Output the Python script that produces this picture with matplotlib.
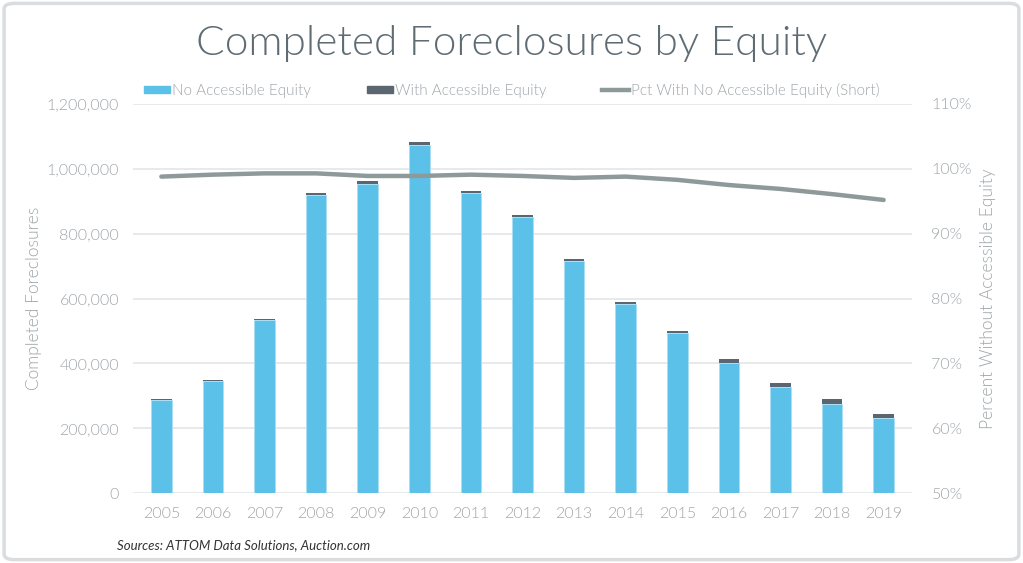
import matplotlib
matplotlib.use("Agg")
import matplotlib.pyplot as plt
from matplotlib import font_manager
from matplotlib.patches import FancyBboxPatch, Patch
from matplotlib.lines import Line2D
from matplotlib.ticker import FuncFormatter

# datos
years = ["2005", "2006", "2007", "2008", "2009", "2010", "2011", "2012",
         "2013", "2014", "2015", "2016", "2017", "2018", "2019"]
total = [290000, 349000, 537000, 926000, 963000, 1083000, 932000, 858000,
         722000, 590000, 500000, 413000, 340000, 290000, 244000]
with_equity = [3000, 3000, 4000, 8000, 9000, 10000, 7000, 6000,
               6000, 6000, 7000, 12000, 12000, 14000, 13000]
no_equity = [t - w for t, w in zip(total, with_equity)]
pct_no_equity = [98.8, 99.1, 99.3, 99.3, 98.9, 98.9, 99.1, 98.9,
                 98.6, 98.8, 98.3, 97.5, 96.9, 96.1, 95.2]

azul = "#5bc1e9"
oscuro = "#5b6670"
gris_linea = "#8e9a9a"
gris_texto = "#9fa5a9"

plt.rcParams['font.family'] = ['Lato', 'DejaVu Sans']

# buscar Lato Light si existe
ligera = None
for f in font_manager.findSystemFonts():
    nombre = f.split("/")[-1].lower()
    if nombre in ("lato-light.ttf", "lato-light.otf"):
        ligera = font_manager.FontProperties(fname=f)
        break
if ligera is None:
    ligera = font_manager.FontProperties(family="Lato")

fig = plt.figure(figsize=(10.23, 5.63), dpi=100)
ax = fig.add_axes([0.130, 0.1243, 0.7615, 0.691])

x = list(range(len(years)))
ax.bar(x, no_equity, width=0.4, color=azul, edgecolor="#a9def3", linewidth=0.6, zorder=2)
ax.bar(x, with_equity, width=0.4, bottom=no_equity, color=oscuro, linewidth=0, zorder=2)

ax.set_ylim(0, 1200000)
ax.set_xlim(-0.55, len(years) - 0.45)
ax.set_yticks(range(0, 1200001, 200000))
ax.yaxis.set_major_formatter(FuncFormatter(lambda v, p: f"{int(v):,}"))
ax.set_xticks(x)
ax.set_xticklabels(years)
ax.grid(axis="y", color="#e5e8eb", linewidth=1.3, zorder=0)
ax.set_axisbelow(True)
for s in ax.spines.values():
    s.set_visible(False)
ax.tick_params(length=0, colors=gris_texto, labelsize=11.5, pad=10)
for t in ax.get_xticklabels() + ax.get_yticklabels():
    t.set_fontproperties(ligera)
    t.set_fontsize(11.5)
ax.set_ylabel("Completed Foreclosures", color=gris_texto, labelpad=3,
              fontproperties=ligera)
ax.yaxis.label.set_fontsize(12.5)

ax2 = ax.twinx()
ax2.plot(x, pct_no_equity, color=gris_linea, linewidth=3.2, solid_capstyle="round",
         solid_joinstyle="round", zorder=3)
ax2.set_ylim(50, 110)
ax2.set_yticks(range(50, 111, 10))
ax2.yaxis.set_major_formatter(FuncFormatter(lambda v, p: f"{int(v)}%"))
for s in ax2.spines.values():
    s.set_visible(False)
ax2.tick_params(length=0, colors=gris_texto, labelsize=11.5, pad=14)
for t in ax2.get_yticklabels():
    t.set_fontproperties(ligera)
    t.set_fontsize(11.5)
ax2.set_ylabel("Percent Without Accessible Equity", color=gris_texto, labelpad=6,
               fontproperties=ligera)
ax2.yaxis.label.set_fontsize(12.5)

titulo = fig.text(0.5, 0.922, "Completed Foreclosures by Equity", ha="center", va="center",
                  color="#5f6c74", fontproperties=ligera)
titulo.set_fontsize(30.5)

handles = [Patch(color=azul), Patch(color=oscuro),
           Line2D([], [], color=gris_linea, linewidth=3.2)]
labels = ["No Accessible Equity", "With Accessible Equity",
          "Pct With No Accessible Equity (Short)"]
leg = fig.legend(handles, labels, loc="center", bbox_to_anchor=(0.5, 0.84), ncol=3,
                 frameon=False, handlelength=1.9, handleheight=0.45,
                 handletextpad=0.15, columnspacing=4.0, prop=ligera)
for t in leg.get_texts():
    t.set_color(gris_texto)
    t.set_fontsize(11)

fig.text(0.114, 0.032, "Sources: ATTOM Data Solutions, Auction.com", fontsize=9.5,
         style="italic", color="#333333", va="center")

marco = FancyBboxPatch((0.004, 0.006), 0.992, 0.988, boxstyle="round,pad=0,rounding_size=0.01",
                       transform=fig.transFigure, fill=False, edgecolor="#d9dde0",
                       linewidth=2.5)
fig.patches.append(marco)

fig.savefig("out.png", dpi=100)
